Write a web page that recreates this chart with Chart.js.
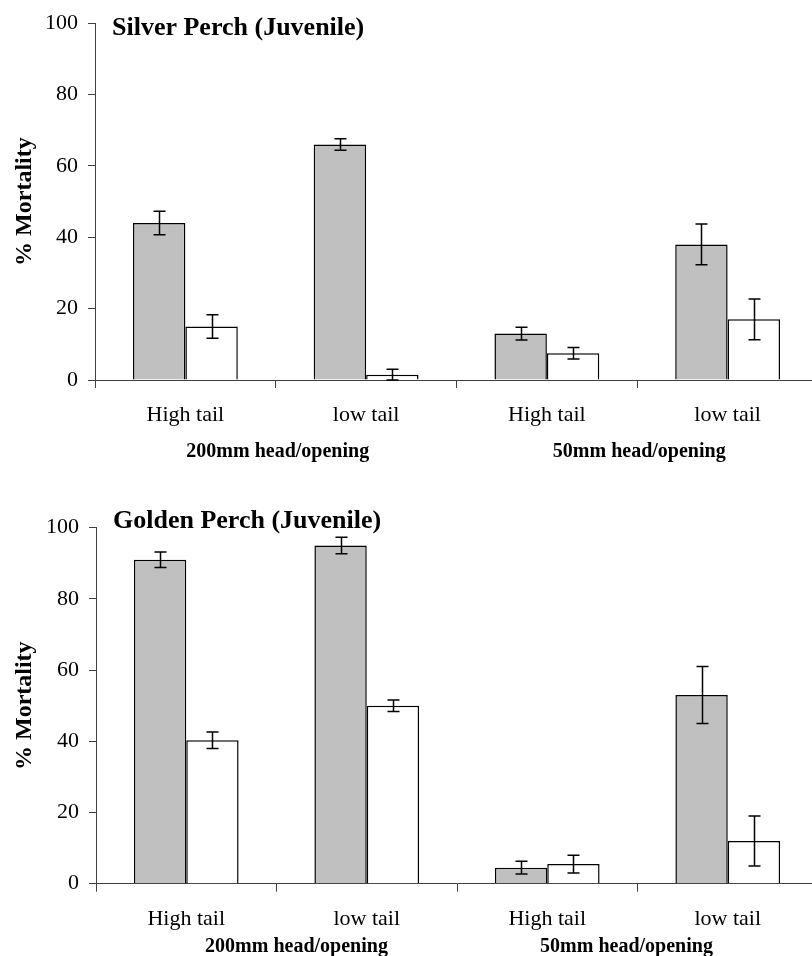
<!DOCTYPE html>
<html>
<head>
<meta charset="utf-8">
<script src="https://cdn.jsdelivr.net/npm/chart.js@4"></script>
<style>
  html, body { margin: 0; padding: 0; background: #fff; width: 812px; height: 956px; overflow: hidden; position: relative; }
  canvas { position: absolute; left: 0; }
  #silver { top: 0; }
  #golden { top: 470px; }
</style>
</head>
<body>
<canvas id="silver" width="818" height="470"></canvas>
<canvas id="golden" width="818" height="486"></canvas>
<script>
// Categories along the x axis and the two head/opening groups they belong to
const categories = ['High tail', 'low tail', 'High tail', 'low tail'];
const groupLabels = ['200mm head/opening', '50mm head/opening'];
const yTicks = [0, 20, 40, 60, 80, 100];

// Silver Perch (Juvenile): % mortality and standard errors
const silverShaded = [44, 66, 13, 38];
const silverShadedErr = [3.3, 1.6, 1.8, 5.7];
const silverOpen = [15, 1.5, 7.5, 17];
const silverOpenErr = [3.3, 1.5, 1.6, 5.7];

// Golden Perch (Juvenile): % mortality and standard errors
const goldenShaded = [91, 95, 4.5, 53];
const goldenShadedErr = [2.2, 2.3, 1.8, 8];
const goldenOpen = [40.3, 50, 5.5, 12];
const goldenOpenErr = [2.3, 1.6, 2.5, 7];

const SERIF = "'Liberation Serif', 'Times New Roman', serif";
Chart.defaults.font.family = SERIF;
Chart.defaults.color = '#000';

// Whisker for every bar, using the dataset's own errors array
const errorBars = {
  id: 'errorBars',
  afterDatasetsDraw(chart) {
    const ctx = chart.ctx;
    const y = chart.scales.y;
    ctx.save();
    ctx.strokeStyle = '#000';
    ctx.lineWidth = 1.5;
    chart.data.datasets.forEach((ds, di) => {
      const meta = chart.getDatasetMeta(di);
      meta.data.forEach((bar, i) => {
        const v = ds.data[i], e = ds.errors[i];
        const yTop = y.getPixelForValue(v + e);
        const yBot = y.getPixelForValue(Math.max(0, v - e));
        const x = Math.round(bar.x) + 0.5;
        const cap = 6;
        ctx.beginPath();
        ctx.moveTo(x, yTop); ctx.lineTo(x, yBot);
        ctx.moveTo(x - cap, yTop); ctx.lineTo(x + cap, yTop);
        ctx.moveTo(x - cap, yBot); ctx.lineTo(x + cap, yBot);
        ctx.stroke();
      });
    });
    ctx.restore();
  }
};

// Panel title inside the plot and bold group captions under each pair of categories
const panelText = {
  id: 'panelText',
  afterDraw(chart, args, opts) {
    const ctx = chart.ctx;
    const area = chart.chartArea;
    const x = chart.scales.x;
    ctx.save();
    ctx.fillStyle = '#000';
    ctx.textBaseline = 'alphabetic';
    ctx.font = 'bold 26px ' + SERIF;
    ctx.textAlign = 'left';
    ctx.fillText(opts.title, area.left + 17, area.top + opts.titleDy);
    ctx.font = 'bold 20px ' + SERIF;
    ctx.textAlign = 'center';
    groupLabels.forEach((g, gi) => {
      const cx = (x.getPixelForValue(gi * 2) + x.getPixelForValue(gi * 2 + 1)) / 2 + opts.groupDx[gi];
      ctx.fillText(g, cx, area.bottom + opts.groupDy);
    });
    ctx.restore();
  }
};

function makeChart(id, title, shaded, shadedErr, open, openErr, layout) {
  return new Chart(document.getElementById(id), {
    type: 'bar',
    data: {
      labels: categories,
      datasets: [
        { label: 'Series 1', data: shaded, errors: shadedErr, backgroundColor: '#c0c0c0', borderColor: '#000', borderWidth: 1.5 },
        { label: 'Series 2', data: open, errors: openErr, backgroundColor: '#ffffff', borderColor: '#000', borderWidth: 1.5 }
      ]
    },
    options: {
      responsive: false,
      animation: false,
      devicePixelRatio: 1,
      categoryPercentage: 0.58,
      barPercentage: 1.0,
      layout: { padding: { left: 0, right: 0, top: layout.top, bottom: 0 } },
      plugins: {
        legend: { display: false },
        tooltip: { enabled: false },
        panelText: { title: title, titleDy: layout.titleDy, groupDy: layout.groupDy, groupDx: layout.groupDx }
      },
      scales: {
        x: {
          grid: { display: true, drawOnChartArea: false, drawTicks: true, tickLength: 8, offset: true, color: '#404040', lineWidth: 1 },
          border: { display: true, color: '#404040', width: 1 },
          ticks: { font: { size: 22 }, color: '#000', padding: 14, maxRotation: 0, autoSkip: false },
          afterFit(scale) { scale.height = layout.xHeight; }
        },
        y: {
          min: 0, max: 100,
          afterBuildTicks(scale) { scale.ticks = yTicks.map(v => ({ value: v })); },
          grid: { display: true, drawOnChartArea: false, drawTicks: true, tickLength: 7, color: '#404040', lineWidth: 1 },
          border: { display: true, color: '#404040', width: 1 },
          ticks: { font: { size: 22 }, color: '#000', padding: 10 },
          title: { display: true, text: '% Mortality', font: { size: 24, weight: 'bold' }, color: '#000', padding: { top: 10, bottom: 0 } },
          afterFit(scale) { scale.width = layout.left; }
        }
      }
    },
    plugins: [errorBars, panelText]
  });
}

makeChart('silver', 'Silver Perch (Juvenile)', silverShaded, silverShadedErr, silverOpen, silverOpenErr,
  { top: 22, xHeight: 90, left: 95, titleDy: 12, groupDy: 77, groupDx: [2, 2] });
makeChart('golden', 'Golden Perch (Juvenile)', goldenShaded, goldenShadedErr, goldenOpen, goldenOpenErr,
  { top: 57.7, xHeight: 72.3, left: 96, titleDy: 0.3, groupDy: 68, groupDx: [20, -11] });
</script>
</body>
</html>
